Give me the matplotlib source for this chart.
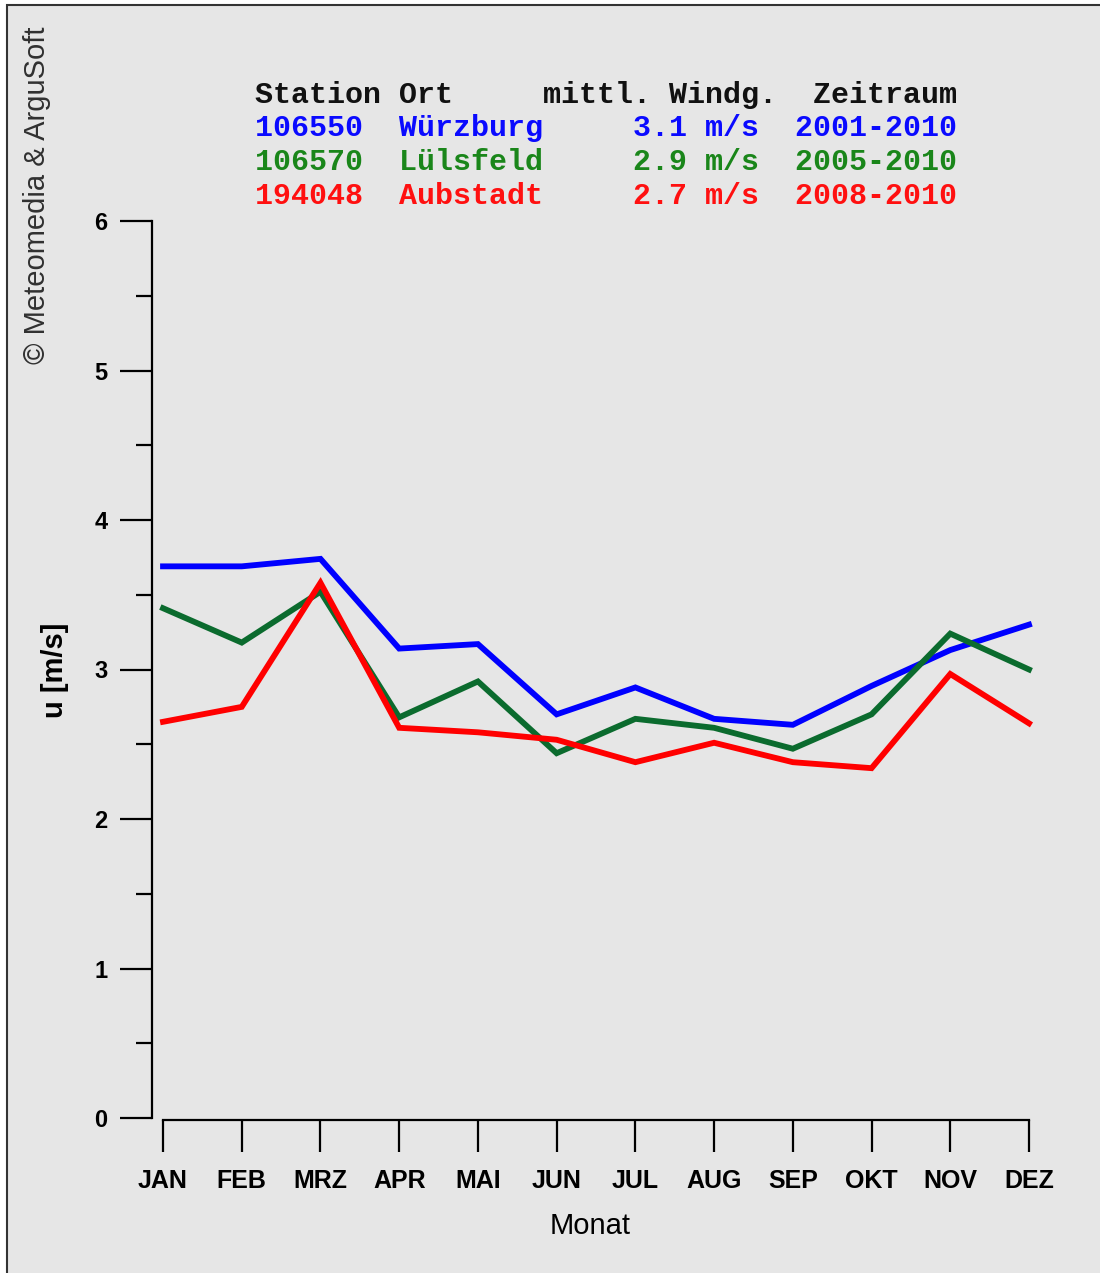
import matplotlib
matplotlib.use("Agg")
import matplotlib.pyplot as plt
from matplotlib.patches import Rectangle
from matplotlib.ticker import MultipleLocator

plt.rcParams["font.family"] = "Liberation Sans"

months = ["JAN", "FEB", "MRZ", "APR", "MAI", "JUN",
          "JUL", "AUG", "SEP", "OKT", "NOV", "DEZ"]

# monthly mean wind speed u [m/s]
wuerzburg = [3.69, 3.69, 3.74, 3.14, 3.17, 2.70, 2.88, 2.67, 2.63, 2.89, 3.13, 3.30]
luelsfeld = [3.41, 3.18, 3.52, 2.68, 2.92, 2.44, 2.67, 2.61, 2.47, 2.70, 3.24, 3.00]
aubstadt = [2.65, 2.75, 3.58, 2.61, 2.58, 2.53, 2.38, 2.51, 2.38, 2.34, 2.97, 2.64]

header = "Station Ort     mittl. Windg.  Zeitraum"
rows = [
    "106550  Würzburg     3.1 m/s  2001-2010",
    "106570  Lülsfeld     2.9 m/s  2005-2010",
    "194048  Aubstadt     2.7 m/s  2008-2010",
]
line_colors = ["#0000ff", "#0b6b2e", "#ff0000"]
text_colors = ["#0a0aff", "#1a861a", "#ff1010"]

W, H = 1100, 1273
fig = plt.figure(figsize=(W / 100, H / 100), dpi=100)
fig.patch.set_facecolor("white")

# grey panel with frame on top and left
fig.patches.append(Rectangle((7 / W, -0.01), 1.01, 1 - 5 / H + 0.01,
                             transform=fig.transFigure, facecolor="#e6e6e6",
                             edgecolor="#333333", linewidth=1.5, zorder=-10))

ax = fig.add_axes([152 / W, (H - 1118) / H, (1029 - 152) / W, (1118 - 221) / H])
ax.set_facecolor("none")

x = list(range(len(months)))
for series, c in zip([wuerzburg, luelsfeld, aubstadt], line_colors):
    ax.plot(x, series, color=c, linewidth=4.2, solid_joinstyle="miter",
            clip_on=False)

ax.set_xlim(-0.14, 11)
ax.set_ylim(0, 6)

for s in ["top", "right"]:
    ax.spines[s].set_visible(False)
ax.spines["left"].set_bounds(0, 6)
ax.spines["bottom"].set_bounds(0, 11)
ax.spines["bottom"].set_position(("outward", 1.5))
ax.spines["left"].set_linewidth(1.6)
ax.spines["bottom"].set_linewidth(1.6)

ax.set_xticks(x)
ax.set_xticklabels(months)
ax.yaxis.set_major_locator(MultipleLocator(1))
ax.yaxis.set_minor_locator(MultipleLocator(0.5))
ax.tick_params(axis="y", which="major", length=23, width=1.6, pad=9,
               labelsize=17)
ax.tick_params(axis="y", which="minor", length=11.5, width=1.6)
ax.tick_params(axis="x", which="major", length=23, width=1.6, pad=12,
               labelsize=18)
for lab in ax.get_xticklabels() + ax.get_yticklabels():
    lab.set_fontweight("bold")

ax.set_xlabel("Monat", fontsize=21, labelpad=14)
fig.text(55 / W, 1 - 670 / H, "u [m/s]", rotation=90, fontsize=21,
         fontweight="bold", ha="center", va="center")
fig.text(37 / W, 1 - 195 / H, "© Meteomedia & ArguSoft", rotation=90,
         fontsize=21, color="#303030", ha="center", va="center")

# station table
fig.text(255 / W, 1 - 95 / H, header, family="Liberation Mono",
         fontweight="bold", fontsize=21.6, color="#111111", va="center")
for i, (r, c) in enumerate(zip(rows, text_colors)):
    fig.text(255 / W, 1 - (128 + 34 * i) / H, r, family="Liberation Mono",
             fontweight="bold", fontsize=21.6, color=c, va="center")

fig.savefig("out.png", dpi=100)
